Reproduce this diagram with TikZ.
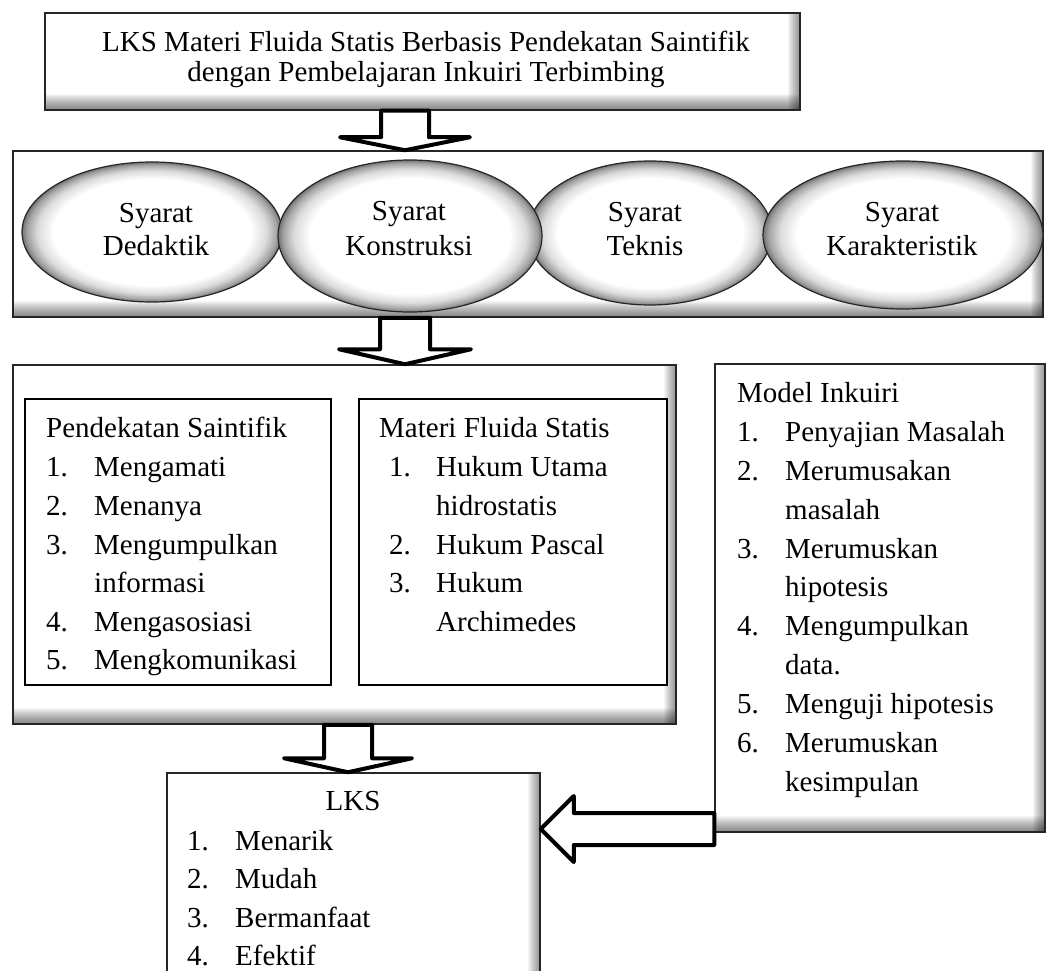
\documentclass[tikz,border=0pt]{standalone}
\usepackage{fontspec}
\setmainfont{Liberation Serif}
\usetikzlibrary{shapes.geometric,calc}
\pgfdeclareradialshading{ellsh}{\pgfpoint{0bp}{0bp}}{color(0bp)=(white);color(19bp)=(white);color(22bp)=(black!14);color(24bp)=(black!36);color(25bp)=(black!55);color(50bp)=(black!55)}
\newcommand\myfs{\fontsize{29}{34}\selectfont}
\begin{document}
\begin{tikzpicture}[x=1pt,y=-1pt,
  shbox/.style={draw=black!85, line width=1.5pt, fill=white, inner sep=0pt, path picture={
    \foreach \k in {1,...,16} \fill[black,opacity=0.035] ([yshift=\k pt]path picture bounding box.south west) rectangle (path picture bounding box.south east);
    \foreach \k in {1,...,12} \fill[black,opacity=0.04] ([xshift=-\k pt]path picture bounding box.north east) rectangle (path picture bounding box.south east);}},
  plainbox/.style={draw=black, line width=1.3pt, fill=white, inner sep=0pt},
  ell/.style={ellipse, draw=black!85, line width=1.2pt, shade, shading=ellsh, inner sep=0pt},
  txt/.style={font=\myfs, inner sep=0pt, anchor=base west},
  ctxt/.style={font=\myfs, inner sep=0pt, anchor=base},
  blk/.style={draw=black, line width=4pt, fill=white, line join=round}
]
\useasboundingbox (0,0) rectangle (1047,971);

% boxes
\node[shbox, minimum width=755pt, minimum height=97pt] (top) at (422.5,61.5) {};
\node[shbox, minimum width=1030pt, minimum height=166pt] (box2) at (528,234) {};
\node[shbox, minimum width=663pt, minimum height=359pt] (box3) at (344.5,544.5) {};
\node[plainbox, minimum width=306pt, minimum height=286pt] (inl) at (178,542) {};
\node[plainbox, minimum width=308pt, minimum height=286pt] (inr) at (513,542) {};
\node[shbox, minimum width=330pt, minimum height=468pt] (model) at (880,598) {};
\node[shbox, minimum width=373pt, minimum height=227pt] (lks) at (353.5,886.5) {};

% ellipses
\node[ell, minimum width=260pt, minimum height=140pt] (e1) at (152,232) {};
\node[ell, minimum width=244pt, minimum height=144pt] (e3) at (650,233) {};
\node[ell, minimum width=280pt, minimum height=148pt] (e4) at (903,235) {};
\node[ell, minimum width=264pt, minimum height=152pt] (e2) at (410,236) {};
\node[ctxt] (e1a) at (156,222) {Syarat};
\node[ctxt] (e1b) at (156,255) {Dedaktik};
\node[ctxt] (e2a) at (409,220) {Syarat};
\node[ctxt] (e2b) at (409,255) {Konstruksi};
\node[ctxt] (e3a) at (645,221) {Syarat};
\node[ctxt] (e3b) at (645,255) {Teknis};
\node[ctxt] (e4a) at (902,221) {Syarat};
\node[ctxt] (e4b) at (902,255) {Karakteristik};

% title
\node[ctxt] (ttl1) at (426,52) {LKS Materi Fluida Statis Berbasis Pendekatan Saintifik};
\node[ctxt] (ttl2) at (426,82) {dengan Pembelajaran Inkuiri Terbimbing};

% Pendekatan Saintifik
\node[txt] (ps) at (46,437) {Pendekatan Saintifik};
\node[txt] (psn1) at (46,476) {1.}; \node[txt] (ps1) at (94,476) {Mengamati};
\node[txt] (psn2) at (46,515) {2.}; \node[txt] (ps2) at (94,515) {Menanya};
\node[txt] (psn3) at (46,554) {3.}; \node[txt] (ps3) at (94,554) {Mengumpulkan};
\node[txt] (ps3b) at (94,592) {informasi};
\node[txt] (psn4) at (46,631) {4.}; \node[txt] (ps4) at (94,631) {Mengasosiasi};
\node[txt] (psn5) at (46,669) {5.}; \node[txt] (ps5) at (94,669) {Mengkomunikasi};

% Materi Fluida Statis
\node[txt] (mf) at (379,437) {Materi Fluida Statis};
\node[txt] (mfn1) at (389,476) {1.}; \node[txt] (mf1) at (436,476) {Hukum Utama};
\node[txt] (mf1b) at (436,515) {hidrostatis};
\node[txt] (mfn2) at (389,554) {2.}; \node[txt] (mf2) at (436,554) {Hukum Pascal};
\node[txt] (mfn3) at (389,592) {3.}; \node[txt] (mf3) at (436,592) {Hukum};
\node[txt] (mf3b) at (436,631) {Archimedes};

% Model Inkuiri
\node[txt] (mi) at (737,402) {Model Inkuiri};
\node[txt] (min1) at (737,441) {1.}; \node[txt] (mi1) at (785,441) {Penyajian Masalah};
\node[txt] (min2) at (737,480) {2.}; \node[txt] (mi2) at (785,480) {Merumusakan};
\node[txt] (mi2b) at (785,519) {masalah};
\node[txt] (min3) at (737,558) {3.}; \node[txt] (mi3) at (785,558) {Merumuskan};
\node[txt] (mi3b) at (785,596) {hipotesis};
\node[txt] (min4) at (737,635) {4.}; \node[txt] (mi4) at (785,635) {Mengumpulkan};
\node[txt] (mi4b) at (785,674) {data.};
\node[txt] (min5) at (737,713) {5.}; \node[txt] (mi5) at (785,713) {Menguji hipotesis};
\node[txt] (min6) at (737,752) {6.}; \node[txt] (mi6) at (785,752) {Merumuskan};
\node[txt] (mi6b) at (785,791) {kesimpulan};

% LKS
\node[ctxt] (lk) at (353,810) {LKS};
\node[txt] (lkn1) at (187,850) {1.}; \node[txt] (lk1) at (235,850) {Menarik};
\node[txt] (lkn2) at (187,888) {2.}; \node[txt] (lk2) at (235,888) {Mudah};
\node[txt] (lkn3) at (187,927) {3.}; \node[txt] (lk3) at (235,927) {Bermanfaat};
\node[txt] (lkn4) at (187,965) {4.}; \node[txt] (lk4) at (235,965) {Efektif};

% block arrows
\coordinate (ax1) at (405,0);
\coordinate (ax3) at (348,0);
\coordinate (ay4) at (0,829);
\coordinate (s1) at (top.south -| ax1);
\coordinate (t1) at (box2.north -| ax1);
\coordinate (s2) at (box2.south -| ax1);
\coordinate (t2) at (box3.north -| ax1);
\coordinate (s3) at (box3.south -| ax3);
\coordinate (t3) at (lks.north -| ax3);
\coordinate (s4) at (model.west |- ay4);
\coordinate (t4) at (lks.east |- ay4);

\draw[blk] ([xshift=-24pt]s1) -- ([xshift=-24pt,yshift=13pt]t1) -- ([xshift=-65pt,yshift=13pt]t1) -- (t1)
  -- ([xshift=65pt,yshift=13pt]t1) -- ([xshift=24pt,yshift=13pt]t1) -- ([xshift=24pt]s1) -- cycle;
\draw[blk] ([xshift=-25pt]s2) -- ([xshift=-25pt,yshift=15pt]t2) -- ([xshift=-66pt,yshift=15pt]t2) -- (t2)
  -- ([xshift=66pt,yshift=15pt]t2) -- ([xshift=25pt,yshift=15pt]t2) -- ([xshift=25pt]s2) -- cycle;
\draw[blk] ([xshift=-24pt]s3) -- ([xshift=-24pt,yshift=14pt]t3) -- ([xshift=-64pt,yshift=14pt]t3) -- (t3)
  -- ([xshift=64pt,yshift=14pt]t3) -- ([xshift=24pt,yshift=14pt]t3) -- ([xshift=24pt]s3) -- cycle;
\draw[blk] ([yshift=16pt]s4) -- ([xshift=33pt,yshift=16pt]t4) -- ([xshift=33pt,yshift=33pt]t4) -- (t4)
  -- ([xshift=33pt,yshift=-33pt]t4) -- ([xshift=33pt,yshift=-16pt]t4) -- ([yshift=-16pt]s4) -- cycle;
\end{tikzpicture}
\end{document}
